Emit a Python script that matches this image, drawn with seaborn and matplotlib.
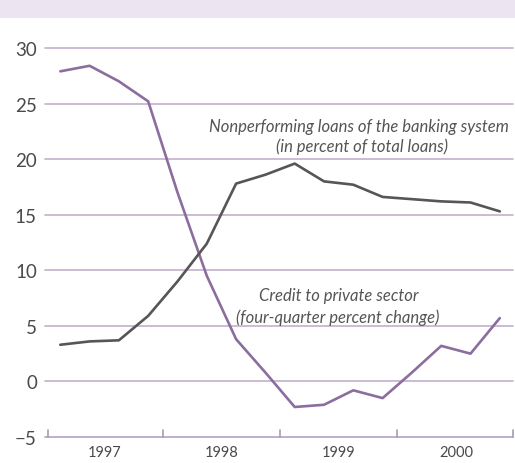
import matplotlib
matplotlib.use("Agg")
import matplotlib.pyplot as plt
import seaborn as sns
import pandas as pd
from matplotlib.patches import Rectangle

quarters = ["1997Q1", "1997Q2", "1997Q3", "1997Q4",
            "1998Q1", "1998Q2", "1998Q3", "1998Q4",
            "1999Q1", "1999Q2", "1999Q3", "1999Q4",
            "2000Q1", "2000Q2", "2000Q3", "2000Q4"]
credit = [27.9, 28.4, 27.0, 25.2, 17.0, 9.5, 3.8, 0.8,
          -2.3, -2.1, -0.8, -1.5, 0.8, 3.2, 2.5, 5.7]
npl = [3.3, 3.6, 3.7, 5.9, 9.0, 12.4, 17.8, 18.6,
       19.6, 18.0, 17.7, 16.6, 16.4, 16.2, 16.1, 15.3]
year_labels = ["1997", "1998", "1999", "2000"]
y_ticks = [-5, 0, 5, 10, 15, 20, 25, 30]

sns.set_theme(style="white")
plt.rcParams["font.family"] = ["Lato", "DejaVu Sans"]

W, H = 515, 464
fig = plt.figure(figsize=(W / 100, H / 100), dpi=100)
fig.patches.append(Rectangle((0, 1 - 19 / H), 1, 19 / H, transform=fig.transFigure,
                             facecolor="#ece5f1", edgecolor="none", zorder=0))
ax = fig.add_axes([48 / W, (H - 438) / H, (513 - 48) / W, (438 - 49) / H])

df = pd.DataFrame({"x": list(range(len(quarters))) * 2,
                   "value": credit + npl,
                   "series": ["credit"] * len(quarters) + ["npl"] * len(quarters)})

grid_color = "#c7b6d3"
for t in y_ticks:
    ax.axhline(t, color=grid_color if t != -5 else "#b9a8c6", lw=1.3, zorder=1,
               xmin=-3 / 465, xmax=1.0, clip_on=False)

sns.lineplot(data=df, x="x", y="value", hue="series",
             palette={"credit": "#8b6d9e", "npl": "#565656"},
             linewidth=1.9, legend=False, ax=ax, zorder=3)

ax.set_xlim(-0.42, 15.45)
ax.set_ylim(-5, 30)
ax.set_xlabel("")
ax.set_ylabel("")
for s in ax.spines.values():
    s.set_visible(False)

ax.set_yticks(y_ticks)
ax.set_yticklabels(["\u2212" + str(-t) if t < 0 else str(t) for t in y_ticks],
                   fontsize=13.5, color="#4a4a4a")
ax.tick_params(axis="y", length=0, pad=8)

ax.set_xticks([1.5, 5.5, 9.5, 13.5])
ax.set_xticklabels(year_labels, fontsize=10.5, color="#4a4a4a")
ax.tick_params(axis="x", length=0, pad=6)

for b in [-0.42, 3.5, 7.5, 11.5, 15.45]:
    ax.plot([b, b], [-5, -4.35], color="#a898b4", lw=1.2, zorder=2, clip_on=False)

txt_color = "#555555"
fs = 12
ax.text(10.2, 23.0, "Nonperforming loans of the banking system", ha="center", va="center",
        fontsize=fs, style="italic", color=txt_color)
ax.text(10.3, 21.2, "(in percent of total loans)", ha="center", va="center",
        fontsize=fs, style="italic", color=txt_color)
ax.text(9.5, 7.75, "Credit to private sector", ha="center", va="center",
        fontsize=fs, style="italic", color=txt_color)
ax.text(9.48, 5.85, "(four-quarter percent change)", ha="center", va="center",
        fontsize=fs, style="italic", color=txt_color)

fig.savefig("out.png", dpi=100)
